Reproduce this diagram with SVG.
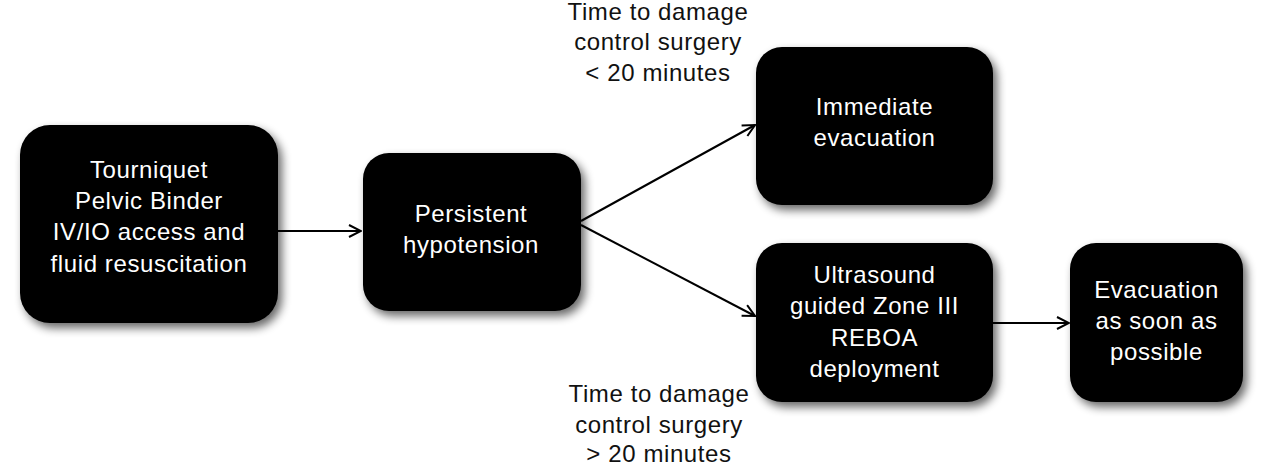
<svg xmlns="http://www.w3.org/2000/svg" width="1280" height="465" viewBox="0 0 1280 465">
<style>
.box{fill:#000;filter:url(#sh)}
.t{font-family:"Liberation Sans",Arial,sans-serif;font-size:24px;letter-spacing:0.6px;text-anchor:middle}
.w{fill:#fff}
.k{fill:#111}
.c{stroke:#000;stroke-width:2;fill:none;marker-end:url(#ah)}
</style>
<defs>
<filter id="sh" x="-20%" y="-20%" width="140%" height="140%">
<feGaussianBlur in="SourceAlpha" stdDeviation="5"/>
<feOffset dx="4" dy="5" result="b"/>
<feComponentTransfer><feFuncA type="linear" slope="0.6"/></feComponentTransfer>
<feMerge><feMergeNode/><feMergeNode in="SourceGraphic"/></feMerge>
</filter>
<marker id="ah" viewBox="0 0 14 14" refX="13" refY="7" markerWidth="14" markerHeight="14" markerUnits="userSpaceOnUse" orient="auto">
<path d="M1,1 L13,7 L1,13" fill="none" stroke="#000" stroke-width="2"/>
</marker>
</defs>
<rect width="1280" height="465" fill="#fff"/>
<g id="connectors">
<line class="c" x1="278" y1="231" x2="361" y2="231"/>
<line class="c" x1="581" y1="221" x2="755" y2="125"/>
<line class="c" x1="581" y1="225" x2="755" y2="316"/>
<line class="c" x1="993" y1="323" x2="1069" y2="323"/>
</g>
<g id="n1">
<rect class="box" x="20" y="125" width="258" height="198" rx="30"/>
<text class="t w" x="149" y="178">Tourniquet</text>
<text class="t w" x="149" y="209">Pelvic Binder</text>
<text class="t w" x="149" y="240">IV/IO access and</text>
<text class="t w" x="149" y="272">fluid resuscitation</text>
</g>
<g id="n2">
<rect class="box" x="363" y="153" width="218" height="158" rx="26"/>
<text class="t w" x="471" y="222">Persistent</text>
<text class="t w" x="471" y="253">hypotension</text>
</g>
<g id="n3">
<rect class="box" x="756" y="47" width="237" height="158" rx="26"/>
<text class="t w" x="874.5" y="115">Immediate</text>
<text class="t w" x="874.5" y="146">evacuation</text>
</g>
<g id="n4">
<rect class="box" x="756" y="243" width="237" height="159" rx="26"/>
<text class="t w" x="874.5" y="283">Ultrasound</text>
<text class="t w" x="874.5" y="314">guided Zone III</text>
<text class="t w" x="874.5" y="346">REBOA</text>
<text class="t w" x="874.5" y="377">deployment</text>
</g>
<g id="n5">
<rect class="box" x="1070" y="243" width="173" height="159" rx="26"/>
<text class="t w" x="1156.5" y="298">Evacuation</text>
<text class="t w" x="1156.5" y="329">as soon as</text>
<text class="t w" x="1156.5" y="360">possible</text>
</g>
<g id="label-top">
<text class="t k" x="658" y="20">Time to damage</text>
<text class="t k" x="658" y="50">control surgery</text>
<text class="t k" x="658" y="81">&lt; 20 minutes</text>
</g>
<g id="label-bottom">
<text class="t k" x="659" y="402">Time to damage</text>
<text class="t k" x="659" y="433">control surgery</text>
<text class="t k" x="659" y="462">&gt; 20 minutes</text>
</g>
</svg>
